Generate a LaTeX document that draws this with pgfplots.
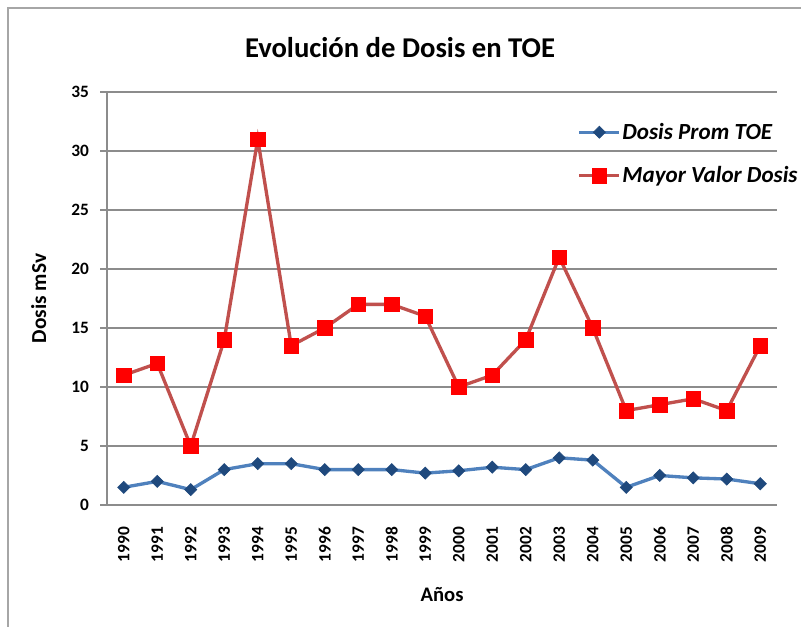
\documentclass[border=0pt]{standalone}
\usepackage{pgfplots}
\pgfplotsset{compat=1.18}
\usepackage{fontspec}
\setmainfont{Carlito}
\definecolor{bluel}{HTML}{4F81BD}
\definecolor{bluem}{HTML}{1F497D}
\definecolor{redl}{HTML}{C0504D}
\definecolor{redm}{HTML}{FF0000}
\definecolor{gridc}{HTML}{8C8C8C}
\begin{document}
\begin{tikzpicture}[x=0.75pt,y=0.75pt]
\useasboundingbox (-107,-122) rectangle (694,505);
\draw[gray!70, line width=1.2pt] (-99,-140) -- (-99,497) -- (720,497);
\node[font=\bfseries\fontsize{21.5}{24}\selectfont] at (293,457) {Evolución de Dosis en TOE};
\begin{axis}[
  at={(0,0)}, anchor=south west,
  scale only axis, width=502.5pt, height=309.75pt,
  xmin=-0.5, xmax=19.5, ymin=0, ymax=35,
  ytick={0,5,...,35},
  xtick={0,...,19},
  xticklabels={1990,1991,1992,1993,1994,1995,1996,1997,1998,1999,2000,2001,2002,2003,2004,2005,2006,2007,2008,2009},
  x tick label style={rotate=90, anchor=east, font=\bfseries\fontsize{13}{14}\selectfont, xshift=-8pt},
  y tick label style={font=\bfseries\fontsize{13}{14}\selectfont, xshift=-5pt},
  /pgf/number format/assume math mode=true,
  ymajorgrids, grid style={gridc, line width=0.8pt},
  axis x line*=bottom, axis y line*=left,
  axis line style={gridc, line width=0.8pt},
  xtick style={draw=none},
  ytick style={gridc, line width=0.8pt},
  tick align=outside, major tick length=5pt,
  ylabel={Dosis mSv}, xlabel={Años},
  ylabel style={font=\bfseries\fontsize{16}{18}\selectfont, yshift=12pt},
  xlabel style={font=\bfseries\fontsize{15.5}{17}\selectfont, yshift=-12pt},
  legend style={draw=none, fill=none, at={(0.696,0.935)}, anchor=north west,
    font=\bfseries\itshape\fontsize{17.3}{19}\selectfont, row sep=17pt,
    legend cell align=left},
  every axis legend/.append style={nodes={inner sep=1pt}},
  legend image code/.code={
    \draw[mark repeat=2, mark phase=2] plot coordinates {(0cm,0cm)(0.53cm,0cm)(1.06cm,0cm)};
  },
]
\addplot[bluel, line width=2.5pt, mark=square*, mark size=3.2pt,
  mark options={rotate=45, fill=bluem, draw=bluem, line width=0.5pt}]
  coordinates {(0,1.5)(1,2.0)(2,1.3)(3,3.0)(4,3.5)(5,3.5)(6,3.0)(7,3.0)(8,3.0)(9,2.7)
               (10,2.9)(11,3.2)(12,3.0)(13,4.0)(14,3.8)(15,1.5)(16,2.5)(17,2.3)(18,2.2)(19,1.8)};
\addlegendentry{Dosis Prom TOE}
\addplot[redl, line width=2.5pt, mark=square*, mark size=5.5pt,
  mark options={fill=redm, draw=redm, line width=0.5pt}]
  coordinates {(0,11)(1,12)(2,5)(3,14)(4,31)(5,13.5)(6,15)(7,17)(8,17)(9,16)
               (10,10)(11,11)(12,14)(13,21)(14,15)(15,8)(16,8.5)(17,9)(18,8)(19,13.5)};
\addlegendentry{Mayor Valor Dosis}
\end{axis}
\end{tikzpicture}
\end{document}
